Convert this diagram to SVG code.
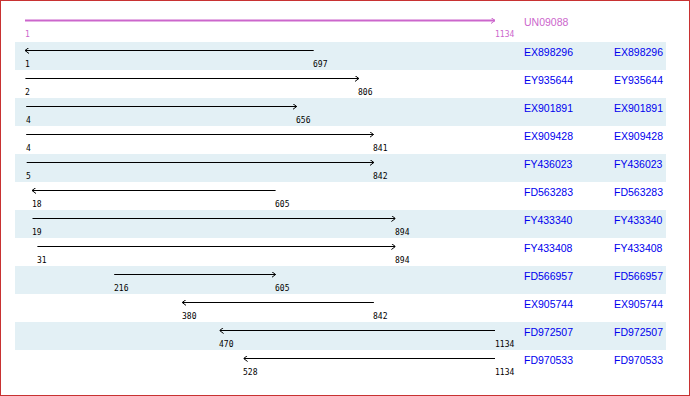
<svg xmlns="http://www.w3.org/2000/svg" width="690" height="396" viewBox="0 0 690 396">
<style>
.band{fill:#e3f0f5}
.ln{stroke:#000;stroke-width:1;fill:none;marker-end:url(#ah)}
.num{font-family:"DejaVu Sans Mono","Liberation Mono",monospace;font-size:8px;fill:#000}
.nm{font-family:"Liberation Sans",Arial,sans-serif;font-size:10.5px;fill:#0000ee}
</style>
<defs>
<marker id="ah" markerUnits="userSpaceOnUse" viewBox="0 0 4 6" refX="4" refY="3" markerWidth="4" markerHeight="6" orient="auto">
<path d="M0,0 L4,3 L0,6" fill="none" stroke="#000" stroke-width="1"/>
</marker>
<marker id="ahp" markerUnits="userSpaceOnUse" viewBox="0 0 4 6" refX="4" refY="3" markerWidth="4" markerHeight="6" orient="auto">
<path d="M0,0 L4,3 L0,6" fill="none" stroke="#cc66cc" stroke-width="1"/>
</marker>
</defs>
<rect x="0" y="0" width="690" height="396" fill="#fff"/>
<g id="bands">
<rect class="band" x="15" y="42" width="651" height="28"/>
<rect class="band" x="15" y="98" width="651" height="28"/>
<rect class="band" x="15" y="154" width="651" height="28"/>
<rect class="band" x="15" y="210" width="651" height="28"/>
<rect class="band" x="15" y="266" width="651" height="28"/>
<rect class="band" x="15" y="322" width="651" height="28"/>
</g>
<g id="connectors">
<line x1="25" y1="20.5" x2="495" y2="20.5" stroke="#cc66cc" stroke-width="2" marker-end="url(#ahp)"/>
<line class="ln" x1="313.7" y1="50.5" x2="25" y2="50.5"/>
<line class="ln" x1="25.4" y1="78.5" x2="358.9" y2="78.5"/>
<line class="ln" x1="26.2" y1="106.5" x2="296.7" y2="106.5"/>
<line class="ln" x1="26.2" y1="134.5" x2="373.5" y2="134.5"/>
<line class="ln" x1="26.7" y1="162.5" x2="373.9" y2="162.5"/>
<line class="ln" x1="275.6" y1="190.5" x2="32" y2="190.5"/>
<line class="ln" x1="32.5" y1="218.5" x2="395.4" y2="218.5"/>
<line class="ln" x1="37.4" y1="246.5" x2="395.4" y2="246.5"/>
<line class="ln" x1="114.2" y1="274.5" x2="275.6" y2="274.5"/>
<line class="ln" x1="373.9" y1="302.5" x2="182.2" y2="302.5"/>
<line class="ln" x1="495" y1="330.5" x2="219.6" y2="330.5"/>
<line class="ln" x1="495" y1="358.5" x2="243.6" y2="358.5"/>
</g>
<g id="UN09088">
<text x="25" y="37" class="num" style="fill:#cc66cc">1</text>
<text x="495" y="37" class="num" style="fill:#cc66cc">1134</text>
<text x="524" y="26" class="nm" style="fill:#cc66cc">UN09088</text>
</g>
<g id="EX898296"><text x="25" y="67" class="num">1</text><text x="313" y="67" class="num">697</text><text x="524" y="56" class="nm">EX898296</text><text x="614" y="56" class="nm">EX898296</text></g>
<g id="EY935644"><text x="25" y="95" class="num">2</text><text x="358" y="95" class="num">806</text><text x="524" y="84" class="nm">EY935644</text><text x="614" y="84" class="nm">EY935644</text></g>
<g id="EX901891"><text x="26" y="123" class="num">4</text><text x="296" y="123" class="num">656</text><text x="524" y="112" class="nm">EX901891</text><text x="614" y="112" class="nm">EX901891</text></g>
<g id="EX909428"><text x="26" y="151" class="num">4</text><text x="373" y="151" class="num">841</text><text x="524" y="140" class="nm">EX909428</text><text x="614" y="140" class="nm">EX909428</text></g>
<g id="FY436023"><text x="26" y="179" class="num">5</text><text x="373" y="179" class="num">842</text><text x="524" y="168" class="nm">FY436023</text><text x="614" y="168" class="nm">FY436023</text></g>
<g id="FD563283"><text x="32" y="207" class="num">18</text><text x="275" y="207" class="num">605</text><text x="524" y="196" class="nm">FD563283</text><text x="614" y="196" class="nm">FD563283</text></g>
<g id="FY433340"><text x="32" y="235" class="num">19</text><text x="395" y="235" class="num">894</text><text x="524" y="224" class="nm">FY433340</text><text x="614" y="224" class="nm">FY433340</text></g>
<g id="FY433408"><text x="37" y="263" class="num">31</text><text x="395" y="263" class="num">894</text><text x="524" y="252" class="nm">FY433408</text><text x="614" y="252" class="nm">FY433408</text></g>
<g id="FD566957"><text x="114" y="291" class="num">216</text><text x="275" y="291" class="num">605</text><text x="524" y="280" class="nm">FD566957</text><text x="614" y="280" class="nm">FD566957</text></g>
<g id="EX905744"><text x="182" y="319" class="num">380</text><text x="373" y="319" class="num">842</text><text x="524" y="308" class="nm">EX905744</text><text x="614" y="308" class="nm">EX905744</text></g>
<g id="FD972507"><text x="219" y="347" class="num">470</text><text x="495" y="347" class="num">1134</text><text x="524" y="336" class="nm">FD972507</text><text x="614" y="336" class="nm">FD972507</text></g>
<g id="FD970533"><text x="243" y="375" class="num">528</text><text x="495" y="375" class="num">1134</text><text x="524" y="364" class="nm">FD970533</text><text x="614" y="364" class="nm">FD970533</text></g>
<rect x="0.5" y="0.5" width="689" height="395" fill="none" stroke="#c83232" stroke-width="1"/>
</svg>
